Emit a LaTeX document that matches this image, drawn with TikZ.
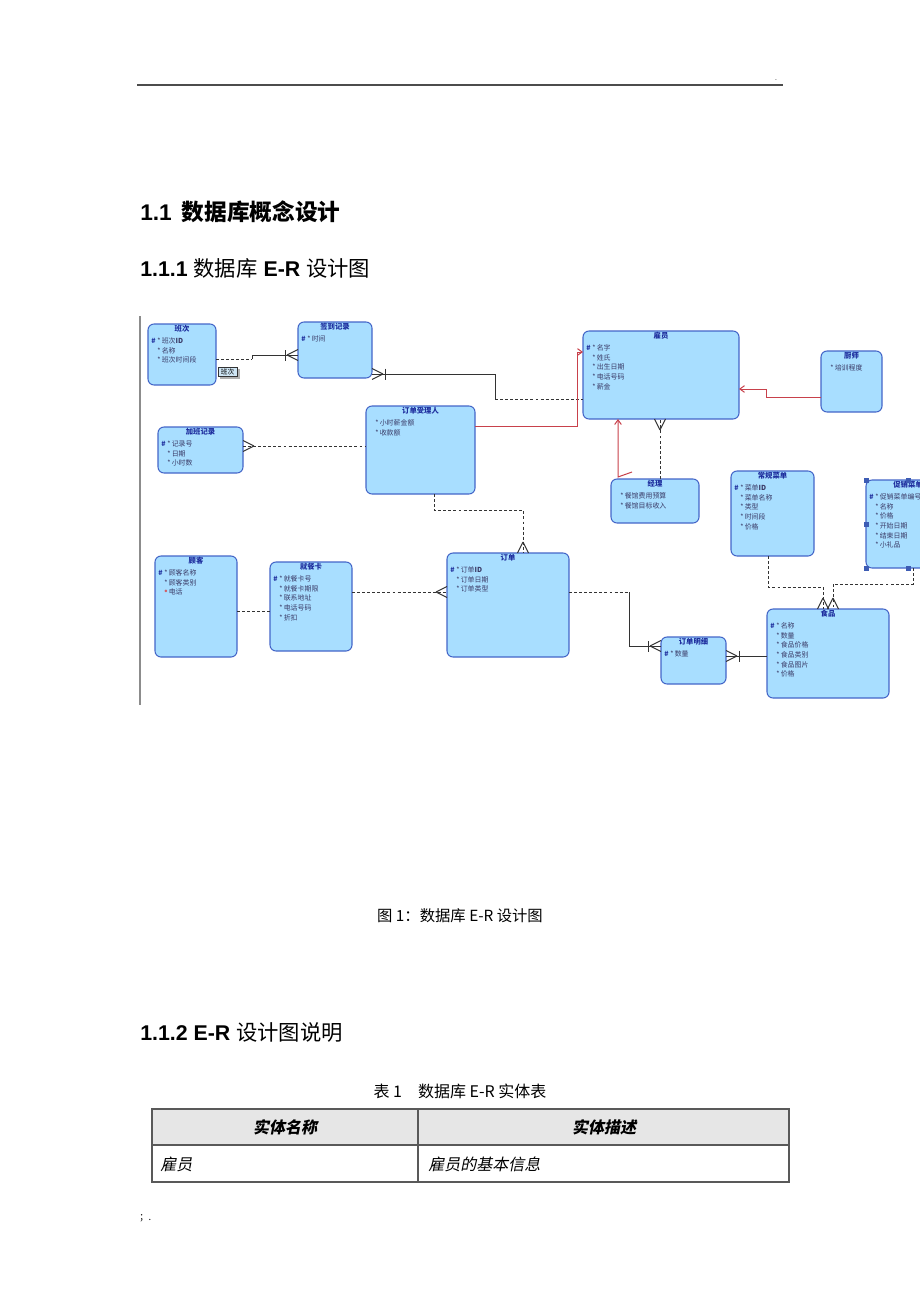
\documentclass[tikz,border=0pt]{standalone}
\usepackage{fontspec}
\setmainfont{Liberation Sans}
\newfontfamily\cjk{Noto Sans CJK SC}
\newfontfamily\cjkit[FakeSlant=0.2]{Noto Sans CJK SC}
\usetikzlibrary{arrows.meta,calc}
\definecolor{entfill}{HTML}{A8DEFF}
\definecolor{entdraw}{HTML}{4466C8}
\definecolor{enttext}{HTML}{1E2E9E}
\definecolor{attrtext}{HTML}{3A3A66}
\definecolor{keyblue}{HTML}{1E2E9E}
\definecolor{relred}{HTML}{C8414B}
\definecolor{lineg}{HTML}{333333}
\definecolor{tblhead}{HTML}{E6E6E6}
\definecolor{tipfill}{HTML}{CFE6F5}
\newcommand\attrK[1]{\makebox[4.5pt][l]{\textcolor{keyblue}{\bfseries\#}}\makebox[3.4pt][l]{*}#1}
\newcommand\attrN[1]{\hspace*{4.5pt}\makebox[3.4pt][l]{*}#1}
\newcommand\attrR[1]{\hspace*{4.5pt}\makebox[3.4pt][l]{\textcolor{relred!85}{\rmfamily\fontsize{7}{7}\selectfont •}}#1}
\newcommand\ERbox[7]{%
  \node[ent, minimum width={(#4-#2)*0.75pt}, minimum height={(#5-#3)*0.75pt}, anchor=north west] (#1) at (#2,#3) {};
  \node[enttitle] (#1-t) at ($(#1.north)+(0,4.5)$) {#6};
  \node[entattr] (#1-a) at ($(#1.north west)+(3,13.5)$) {#7};
}
\newcommand\crowfoot[2]{\draw[conn,shift={(#1)},rotate=#2] (11,0) -- (0,5.5) (11,0) -- (0,-5.5);}
\newcommand\crowbar[2]{\draw[conn,shift={(#1)},rotate=#2] (13,-5.5) -- (13,5.5);}
\tikzset{
  ent/.style={draw=entdraw, fill=entfill, line width=0.8pt, rounded corners=4.5pt, inner sep=0pt, outer sep=0pt},
  enttitle/.style={inner sep=0pt, text=enttext, font={\cjk\bfseries\fontsize{5.5}{6}\selectfont}},
  entattr/.style={anchor=north west, inner sep=0pt, align=left, text=attrtext, font={\cjk\fontsize{5.2}{7.25}\selectfont}},
  conn/.style={draw=lineg, line width=0.75pt},
  dsh/.style={draw=lineg, line width=0.75pt, dash pattern=on 2.2pt off 1.6pt},
  rel/.style={draw=relred, line width=0.75pt, -{Straight Barb[length=3.5pt,width=5pt]}},
  tipbox/.style={draw=lineg, fill=tipfill, line width=0.5pt, inner sep=0pt, minimum width=14pt, minimum height=7pt, font={\cjk\fontsize{5}{6}\selectfont}},
  tbl/.style={draw=black!65, line width=1pt},
  plain/.style={inner sep=0pt},
}
\begin{document}
\begin{tikzpicture}[x=0.75pt,y=-0.75pt]
\useasboundingbox (0,0) rectangle (920,1302);
\fill[white] (0,0) rectangle (920,1302);
\clip (0,0) rectangle (920,1302);

% page header
\draw[black!70, line width=1.2pt] (137,85) -- (783,85);
\node[plain, font=\fontsize{5}{6}\selectfont] (hdot) at (776,80) {.};

% headings
\node[plain, anchor=west] (h1) at (140,212) {\fontsize{17}{20}\selectfont\bfseries 1.1\hspace{0.45em}{\cjk 数据库概念设计}};
\node[plain, anchor=west] (h2) at (140,268) {\fontsize{16}{19}\selectfont{\bfseries 1.1.1} {\cjk 数据库} {\bfseries E-R} {\cjk 设计图}};

% diagram frame line
\draw[black!45, line width=1.2pt] (140,316) -- (140,705);

% entities
\ERbox{bc}{148}{324}{216}{385}{班次}{\attrK{班次\textbf{ID}}\\\attrN{名称}\\\attrN{班次时间段}}
\ERbox{qd}{298}{322}{372}{378}{签到记录}{\attrK{时间}}
\ERbox{gy}{583}{331}{739}{419}{雇员}{\attrK{名字}\\\attrN{姓氏}\\\attrN{出生日期}\\\attrN{电话号码}\\\attrN{薪金}}
\ERbox{cs}{821}{351}{882}{412}{厨师}{\attrN{培训程度}}
\ERbox{sl}{366}{406}{475}{494}{订单受理人}{\attrN{小时薪金额}\\\attrN{收款额}}
\ERbox{jb}{158}{427}{243}{473}{加班记录}{\attrK{记录号}\\\attrN{日期}\\\attrN{小时数}}
\ERbox{jl}{611}{479}{699}{523}{经理}{\attrN{餐馆费用预算}\\\attrN{餐馆目标收入}}
\ERbox{cg}{731}{471}{814}{556}{常规菜单}{\attrK{菜单\textbf{ID}}\\\attrN{菜单名称}\\\attrN{类型}\\\attrN{时间段}\\\attrN{价格}}
\ERbox{cx}{866}{480}{950}{568}{促销菜单}{\attrK{促销菜单编号}\\\attrN{名称}\\\attrN{价格}\\\attrN{开始日期}\\\attrN{结束日期}\\\attrN{小礼品}}
\ERbox{gk}{155}{556}{237}{657}{顾客}{\attrK{顾客名称}\\\attrN{顾客类别}\\\attrR{电话}}
\ERbox{jc}{270}{562}{352}{651}{就餐卡}{\attrK{就餐卡号}\\\attrN{就餐卡期限}\\\attrN{联系地址}\\\attrN{电话号码}\\\attrN{折扣}}
\ERbox{dd}{447}{553}{569}{657}{订单}{\attrK{订单\textbf{ID}}\\\attrN{订单日期}\\\attrN{订单类型}}
\ERbox{mx}{661}{637}{726}{684}{订单明细}{\attrK{数量}}
\ERbox{sp}{767}{609}{889}{698}{食品}{\attrK{名称}\\\attrN{数量}\\\attrN{食品价格}\\\attrN{食品类别}\\\attrN{食品图片}\\\attrN{价格}}

% selection handles on 促销菜单
\foreach \hx/\hy in {866/480,908/480,866/524,866/568,908/568}
  \fill[entdraw!90!black] ({\hx-2.5},{\hy-2.5}) rectangle ++(5,5);

% tooltip with shadow
\fill[black!30] (220,369) rectangle (239.5,378.5);
\node[tipbox] (tip) at (227.5,371.5) {班次};

% a: 班次 - 签到记录
\coordinate (pA1) at ($(bc.north east)+(0,35)$);
\coordinate (pA2) at ($(bc.north east)+(36,35)$);
\coordinate (pA3) at ($(qd.north west)+(0,33)$);
\draw[dsh] (pA1) -- (pA2);
\draw[conn] (pA2) |- (pA3);
\crowfoot{pA3}{180}\crowbar{pA3}{180}

% b: 签到记录 - 雇员
\coordinate (pB1) at ($(qd.north east)+(0,52)$);
\coordinate (pB3) at ($(gy.north west)+(0,68)$);
\coordinate (pB2) at ($(pB3)+(-88,0)$);
\draw[conn] (pB1) -| (pB2);
\draw[dsh] (pB2) -- (pB3);
\crowfoot{pB1}{0}\crowbar{pB1}{0}

% c: 加班记录 - 订单受理人
\coordinate (pC1) at ($(jb.north east)+(0,19)$);
\coordinate (pC2) at (sl.west |- pC1);
\draw[dsh] (pC1) -- (pC2);
\crowfoot{pC1}{0}

% d: 订单受理人 -> 雇员
\coordinate (pD1) at ($(sl.north east)+(0,20)$);
\coordinate (pD3) at ($(gy.north west)+(0,21)$);
\coordinate (pD2) at ($(pD3)+(-6,0)$);
\draw[rel] (pD1) -| (pD2) -- (pD3);

% e: 厨师 -> 雇员
\coordinate (pE1) at ($(cs.north west)+(0,46)$);
\coordinate (pE3) at ($(gy.north east)+(0,58)$);
\coordinate (pE2) at ($(pE3)+(27,0)$);
\draw[rel] (pE1) -| (pE2) -- (pE3);

% f: 经理 -> 雇员
\draw[rel] ($(jl.north west)+(21,-7)$) -- ($(jl.north west)+(7,-2)$) -- ($(gy.south west)+(35,0)$);

% g: 经理 - 雇员 dashed
\coordinate (pG1) at ($(jl.north west)+(49,0)$);
\coordinate (pG2) at ($(gy.south west)+(77,0)$);
\draw[dsh] (pG1) -- (pG2);
\crowfoot{pG2}{-90}

% h: 订单受理人 - 订单
\coordinate (pH1) at ($(sl.south west)+(68,0)$);
\coordinate (pH3) at ($(dd.north west)+(76,0)$);
\draw[dsh] (pH1) |- ($(pH3)+(0,-43)$) -- (pH3);
\crowfoot{pH3}{90}

% i: 就餐卡 - 订单
\coordinate (pI1) at ($(jc.north east)+(0,30)$);
\coordinate (pI2) at ($(dd.north west)+(0,39)$);
\draw[dsh] (pI1) -- (pI2);
\crowfoot{pI2}{180}

% j: 顾客 - 就餐卡
\coordinate (pJ1) at ($(gk.north east)+(0,55)$);
\coordinate (pJ2) at ($(jc.north west)+(0,49)$);
\draw[dsh] (pJ1) -- (pJ2);

% k: 订单 - 订单明细
\coordinate (pK1) at ($(dd.north east)+(0,39)$);
\coordinate (pK2) at ($(pK1)+(60,0)$);
\coordinate (pK3) at ($(mx.north west)+(0,9)$);
\draw[dsh] (pK1) -- (pK2);
\draw[conn] (pK2) |- (pK3);
\crowfoot{pK3}{180}\crowbar{pK3}{180}

% l: 订单明细 - 食品
\coordinate (pL1) at ($(mx.north east)+(0,19)$);
\coordinate (pL2) at ($(sp.north west)+(0,47)$);
\draw[conn] (pL1) -- (pL2);
\crowfoot{pL1}{0}\crowbar{pL1}{0}

% m: 常规菜单 - 食品
\coordinate (pM1) at ($(cg.south west)+(37,0)$);
\coordinate (pM3) at ($(sp.north west)+(56,0)$);
\draw[dsh] (pM1) |- ($(pM3)+(0,-22)$) -- (pM3);
\crowfoot{pM3}{90}

% n: 促销菜单 - 食品
\coordinate (pN1) at ($(cx.south west)+(47,0)$);
\coordinate (pN3) at ($(sp.north west)+(66,0)$);
\draw[dsh] (pN1) |- ($(pN3)+(0,-25)$) -- (pN3);
\crowfoot{pN3}{90}

% caption
\node[plain, font={\cjk\fontsize{11.5}{13}\selectfont}] (cap) at (460,916) {图 1：数据库 E-R 设计图};

% section 1.1.2
\node[plain, anchor=west] (h3) at (140,1032) {\fontsize{16}{19}\selectfont{\bfseries 1.1.2 E-R} {\cjk 设计图说明}};
\node[plain, font={\cjk\fontsize{12}{14}\selectfont}] (tcap) at (460,1091) {表 1\hspace{1em}数据库 E-R 实体表};

% table
\draw[tbl, fill=tblhead] (152,1109) rectangle (789,1145);
\draw[tbl] (152,1145) rectangle (789,1182);
\draw[tbl] (418,1109) -- (418,1182);
\node[plain, font={\cjkit\bfseries\fontsize{12}{14}\selectfont}] (th1) at (285,1127) {实体名称};
\node[plain, font={\cjkit\bfseries\fontsize{12}{14}\selectfont}] (th2) at (604,1127) {实体描述};
\node[plain, anchor=west, font={\cjkit\fontsize{12}{14}\selectfont}] (td1) at (160,1164) {雇员};
\node[plain, anchor=west, font={\cjkit\fontsize{12}{14}\selectfont}] (td2) at (428,1164) {雇员的基本信息};

% footer
\node[plain, anchor=west, font={\cjk\fontsize{7}{8}\selectfont}] (foot) at (139,1218) {；.};
\end{tikzpicture}
\end{document}
